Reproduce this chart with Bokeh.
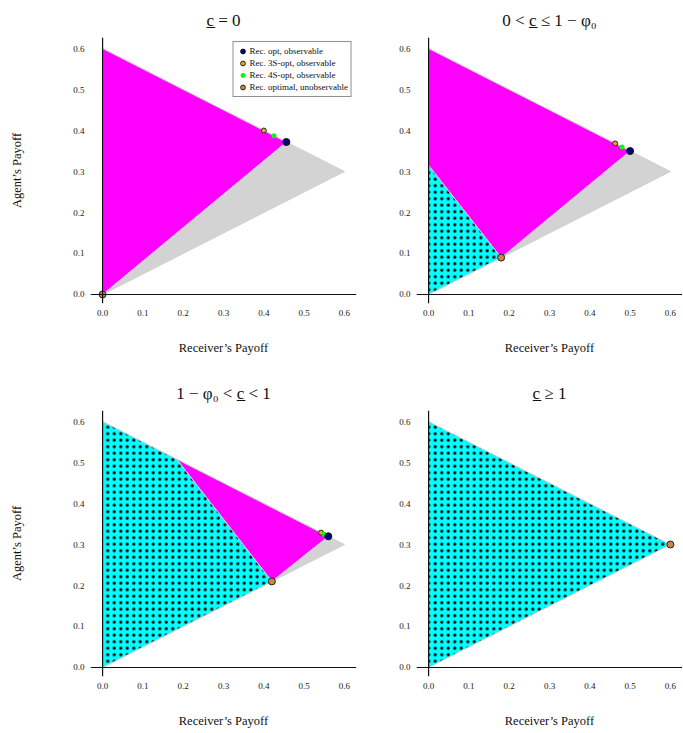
from bokeh.plotting import figure
from bokeh.layouts import gridplot
from bokeh.models import Range1d, Span, FixedTicker, Legend, LegendItem
from bokeh.embed import file_html
from bokeh.resources import INLINE

# ---------------- data ----------------
titles = ["c\u0332 = 0", "0 < c\u0332 \u2264 1 \u2212 \u03c6\u2080",
          "1 \u2212 \u03c6\u2080 < c\u0332 < 1", "c\u0332 \u2265 1"]
tick_values = [0.0, 0.1, 0.2, 0.3, 0.4, 0.5, 0.6]
tick_labels = ["0.0", "0.1", "0.2", "0.3", "0.4", "0.5", "0.6"]

gray_x = [0.0, 0.0, 0.6]
gray_y = [0.0, 0.6, 0.3]

# panel A: c = 0
a_mag_x = [0.0, 0.0, 0.456]
a_mag_y = [0.0, 0.6, 0.372]
a_cyan_x = []
a_cyan_y = []
a_opt = (0.456, 0.372)
a_3s = (0.40, 0.40)
a_4s = (0.425, 0.3875)
a_unobs = (0.0, 0.0)

# panel B: 0 < c <= 1 - phi0
b_mag_x = [0.0, 0.0, 0.50, 0.18]
b_mag_y = [0.315, 0.6, 0.35, 0.09]
b_cyan_x = [0.0, 0.0, 0.18]
b_cyan_y = [0.0, 0.315, 0.09]
b_opt = (0.50, 0.35)
b_3s = (0.463, 0.3685)
b_4s = (0.48, 0.36)
b_unobs = (0.18, 0.09)

# panel C: 1 - phi0 < c < 1
c_mag_x = [0.184, 0.56, 0.42]
c_mag_y = [0.508, 0.32, 0.21]
c_cyan_x = [0.0, 0.0, 0.184, 0.42]
c_cyan_y = [0.0, 0.6, 0.508, 0.21]
c_opt = (0.56, 0.32)
c_3s = (0.542, 0.329)
c_4s = (0.55, 0.325)
c_unobs = (0.42, 0.21)

# panel D: c >= 1
d_cyan_x = [0.0, 0.0, 0.6]
d_cyan_y = [0.0, 0.6, 0.3]
d_unobs = (0.6, 0.3)

legend_labels = ["Rec. opt, observable", "Rec. 3S-opt, observable",
                 "Rec. 4S-opt, observable", "Rec. optimal, unobservable"]

SERIF = "Liberation Serif"
EDGE = "#d0d0d0"


def make_panel(title, left, width, height, mb_left, mb_top, mb_bottom):
    p = figure(width=width, height=height, output_backend="svg",
               toolbar_location=None,
               x_range=Range1d(-0.03, 0.63), y_range=Range1d(-0.022, 0.627),
               min_border_left=mb_left, min_border_right=4 if left else 0,
               min_border_top=mb_top, min_border_bottom=mb_bottom)
    p.title.text = title
    p.title.align = "center"
    p.title.text_font = SERIF
    p.title.text_font_size = "17px"
    p.title.text_font_style = "normal"
    p.title.text_color = "#111111"
    p.title.standoff = 15
    p.outline_line_color = None
    p.xgrid.visible = False
    p.ygrid.visible = False
    for ax in (p.xaxis[0], p.yaxis[0]):
        ax.ticker = FixedTicker(ticks=tick_values)
        ax.major_label_overrides = {v: l for v, l in zip(tick_values, tick_labels)}
        ax.axis_line_color = None
        ax.major_tick_line_color = None
        ax.minor_tick_line_color = None
        ax.major_tick_out = 0
        ax.major_tick_in = 0
        ax.minor_tick_out = 0
        ax.minor_tick_in = 0
        ax.major_label_text_font = SERIF
        ax.major_label_text_font_size = "9px"
        ax.major_label_text_color = "#222222"
        ax.major_label_standoff = 6
        ax.axis_label_text_font = SERIF
        ax.axis_label_text_font_size = "12.5px"
        ax.axis_label_text_font_style = "normal"
        ax.axis_label_text_color = "#111111"
    p.xaxis.axis_label = "Receiver\u2019s Payoff"
    p.xaxis.axis_label_standoff = 22
    if left:
        p.yaxis.axis_label = "Agent\u2019s Payoff"
        p.yaxis.axis_label_standoff = 46
    return p


def fill_panel(p, mag_x, mag_y, cyan_x, cyan_y, show_gray=True):
    if show_gray:
        p.patch(gray_x, gray_y, fill_color="#d3d3d3", line_color=EDGE, line_width=1)
    if mag_x:
        p.patch(mag_x, mag_y, fill_color="#ff00ff", line_color=EDGE, line_width=1)
    if cyan_x:
        p.patch(cyan_x, cyan_y, fill_color="#00ffff", line_color=EDGE, line_width=1,
                hatch_pattern=".", hatch_color="black", hatch_scale=6.5,
                hatch_weight=1.5)
    p.add_layout(Span(location=0, dimension="width", line_color="#111111", line_width=1.2))
    p.add_layout(Span(location=0, dimension="height", line_color="#111111", line_width=1.2))


def add_points(p, pts3s=None, pts4s=None, opt=None, unobs=None):
    r = {}
    if pts3s:
        r["3s"] = p.scatter([pts3s[0]], [pts3s[1]], size=5, fill_color="#f0a020",
                            line_color="#222222", line_width=1)
    if pts4s:
        r["4s"] = p.scatter([pts4s[0]], [pts4s[1]], size=5, fill_color="#00ff00",
                            line_color=None)
    if opt:
        r["opt"] = p.scatter([opt[0]], [opt[1]], size=7, fill_color="#000080",
                             line_color="#111111", line_width=1)
    if unobs:
        r["unobs"] = p.scatter([unobs[0]], [unobs[1]], size=7, fill_color="#cd853f",
                               line_color="#222222", line_width=1)
    return r


LW, RW = 360, 322
TH, BH = 365, 366

pA = make_panel(titles[0], True, LW, TH, 90, 37, 62)
fill_panel(pA, a_mag_x, a_mag_y, a_cyan_x, a_cyan_y)
rA = add_points(pA, a_3s, a_4s, a_opt, a_unobs)
legend = Legend(items=[
    LegendItem(label=legend_labels[0], renderers=[rA["opt"]]),
    LegendItem(label=legend_labels[1], renderers=[rA["3s"]]),
    LegendItem(label=legend_labels[2], renderers=[rA["4s"]]),
    LegendItem(label=legend_labels[3], renderers=[rA["unobs"]]),
], location="top_right")
legend.border_line_color = "#222222"
legend.border_line_width = 1
legend.background_fill_color = "white"
legend.background_fill_alpha = 1
legend.label_text_font = SERIF
legend.label_text_font_size = "9px"
legend.label_text_color = "#111111"
legend.glyph_height = 12
legend.glyph_width = 12
legend.label_height = 12
legend.label_standoff = 1
legend.spacing = 0
legend.padding = 3
legend.margin = 4
pA.add_layout(legend)

pB = make_panel(titles[1], False, RW, TH, 56, 37, 62)
fill_panel(pB, b_mag_x, b_mag_y, b_cyan_x, b_cyan_y)
add_points(pB, b_3s, b_4s, b_opt, b_unobs)

pC = make_panel(titles[2], True, LW, BH, 90, 45, 55)
fill_panel(pC, c_mag_x, c_mag_y, c_cyan_x, c_cyan_y)
add_points(pC, c_3s, c_4s, c_opt, c_unobs)

pD = make_panel(titles[3], False, RW, BH, 56, 45, 55)
fill_panel(pD, [], [], d_cyan_x, d_cyan_y, show_gray=False)
add_points(pD, None, None, None, d_unobs)

grid = gridplot([[pA, pB], [pC, pD]], toolbar_location=None)

open("out.html", "w").write(file_html(grid, INLINE))
